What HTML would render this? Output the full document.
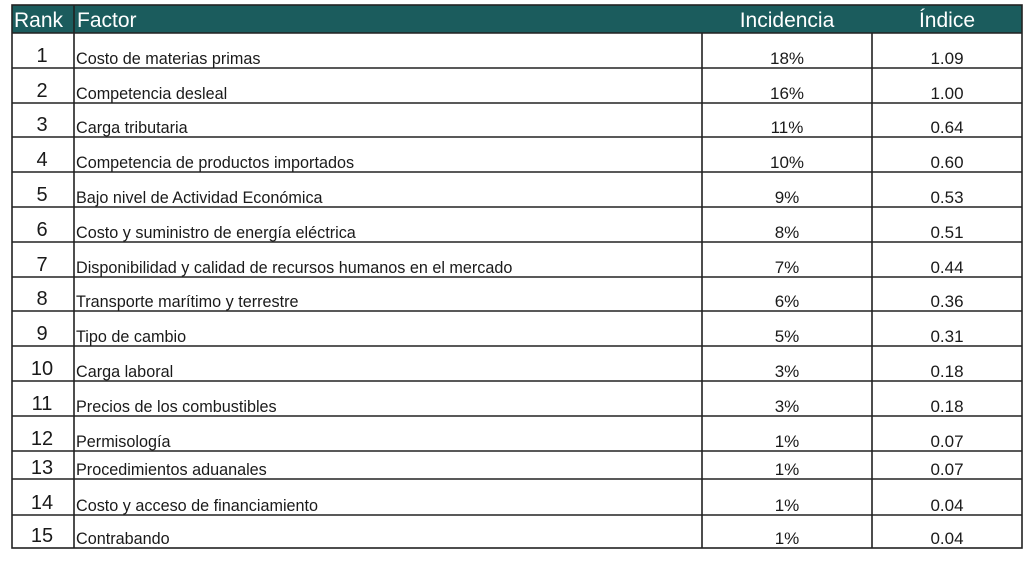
<!DOCTYPE html>
<html><head><meta charset="utf-8"><style>
html,body{margin:0;padding:0;background:#fff;width:1024px;height:561px;overflow:hidden}
svg{display:block}
text{font-family:"Liberation Sans",sans-serif;fill:#1a1a1a}
.r{font-size:20px}
.f{font-size:16.2px}
.v{font-size:17px;fill:#333}
</style></head><body>
<svg width="1024" height="561" xmlns="http://www.w3.org/2000/svg">
<rect x="12" y="5" width="1010" height="28" fill="#1b5c5d"/>
<text x="14" y="27" style="font-size:21px;fill:#fff">Rank</text>
<text x="77" y="27" style="font-size:21px;fill:#fff">Factor</text>
<text x="787" y="27" text-anchor="middle" style="font-size:21px;fill:#fff">Incidencia</text>
<text x="947" y="27" text-anchor="middle" style="font-size:21px;fill:#fff">Índice</text>
<g stroke="#222" stroke-width="1.6" fill="none">
<rect x="12" y="5" width="1010" height="543"/>
<line x1="74" y1="5" x2="74" y2="548"/>
<line x1="702" y1="33" x2="702" y2="548"/>
<line x1="872" y1="33" x2="872" y2="548"/>
<line x1="12" y1="33" x2="1022" y2="33"/><line x1="12" y1="68" x2="1022" y2="68"/><line x1="12" y1="103" x2="1022" y2="103"/><line x1="12" y1="137" x2="1022" y2="137"/><line x1="12" y1="172" x2="1022" y2="172"/><line x1="12" y1="207" x2="1022" y2="207"/><line x1="12" y1="242" x2="1022" y2="242"/><line x1="12" y1="277" x2="1022" y2="277"/><line x1="12" y1="311" x2="1022" y2="311"/><line x1="12" y1="346" x2="1022" y2="346"/><line x1="12" y1="381" x2="1022" y2="381"/><line x1="12" y1="416" x2="1022" y2="416"/><line x1="12" y1="451" x2="1022" y2="451"/><line x1="12" y1="479" x2="1022" y2="479"/><line x1="12" y1="515" x2="1022" y2="515"/>
</g>
<g class="r" text-anchor="middle">
<text x="42" y="62">1</text><text x="42" y="97">2</text><text x="42" y="131">3</text><text x="42" y="166">4</text><text x="42" y="201">5</text><text x="42" y="236">6</text><text x="42" y="271">7</text><text x="42" y="305">8</text><text x="42" y="340">9</text><text x="42" y="375">10</text><text x="42" y="410">11</text><text x="42" y="445">12</text><text x="42" y="474">13</text><text x="42" y="509">14</text><text x="42" y="542">15</text>
</g>
<g class="f">
<text x="76" y="64">Costo de materias primas</text>
<text x="76" y="99">Competencia desleal</text>
<text x="76" y="133">Carga tributaria</text>
<text x="76" y="168">Competencia de productos importados</text>
<text x="76" y="203">Bajo nivel de Actividad Económica</text>
<text x="76" y="238">Costo y suministro de energía eléctrica</text>
<text x="76" y="273">Disponibilidad y calidad de recursos humanos en el mercado</text>
<text x="76" y="307">Transporte marítimo y terrestre</text>
<text x="76" y="342">Tipo de cambio</text>
<text x="76" y="377">Carga laboral</text>
<text x="76" y="412">Precios de los combustibles</text>
<text x="76" y="447">Permisología</text>
<text x="76" y="475">Procedimientos aduanales</text>
<text x="76" y="511">Costo y acceso de financiamiento</text>
<text x="76" y="544">Contrabando</text>
</g>
<g class="v" text-anchor="middle">
<text x="787" y="64">18%</text><text x="787" y="99">16%</text><text x="787" y="133">11%</text><text x="787" y="168">10%</text><text x="787" y="203">9%</text><text x="787" y="238">8%</text><text x="787" y="273">7%</text><text x="787" y="307">6%</text><text x="787" y="342">5%</text><text x="787" y="377">3%</text><text x="787" y="412">3%</text><text x="787" y="447">1%</text><text x="787" y="475">1%</text><text x="787" y="511">1%</text><text x="787" y="544">1%</text>
</g>
<g class="v" text-anchor="middle">
<text x="947" y="64">1.09</text><text x="947" y="99">1.00</text><text x="947" y="133">0.64</text><text x="947" y="168">0.60</text><text x="947" y="203">0.53</text><text x="947" y="238">0.51</text><text x="947" y="273">0.44</text><text x="947" y="307">0.36</text><text x="947" y="342">0.31</text><text x="947" y="377">0.18</text><text x="947" y="412">0.18</text><text x="947" y="447">0.07</text><text x="947" y="475">0.07</text><text x="947" y="511">0.04</text><text x="947" y="544">0.04</text>
</g>
</svg>
</body></html>
